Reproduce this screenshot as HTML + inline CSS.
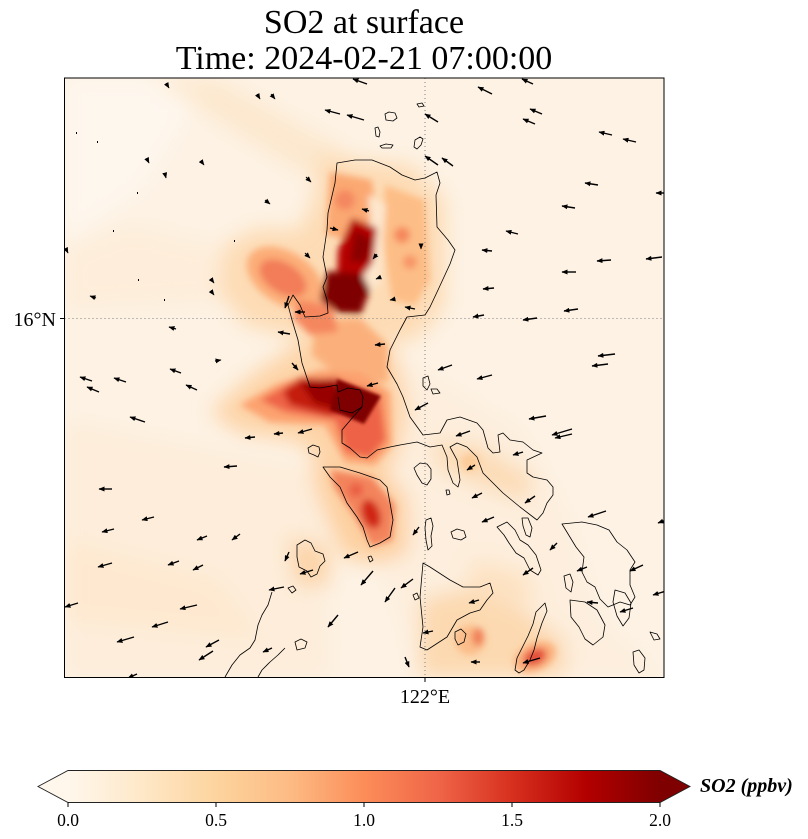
<!DOCTYPE html>
<html><head><meta charset="utf-8"><style>
html,body{margin:0;padding:0;background:#fff}
svg{display:block}
text{font-family:"Liberation Serif","Times New Roman",serif;fill:#000}
</style></head><body>
<svg width="808" height="839" viewBox="0 0 808 839" xmlns="http://www.w3.org/2000/svg">
<defs>
<clipPath id="mc"><rect x="64.5" y="78" width="599.5" height="599.5"/></clipPath>
<filter id="b4" x="-30%" y="-30%" width="160%" height="160%"><feGaussianBlur stdDeviation="3.5"/></filter>
<filter id="b10" x="-30%" y="-30%" width="160%" height="160%"><feGaussianBlur stdDeviation="10"/></filter>
<filter id="b2"><feGaussianBlur stdDeviation="1.5"/></filter>
<linearGradient id="cm" x1="68" y1="0" x2="660" y2="0" gradientUnits="userSpaceOnUse">
<stop offset="0" stop-color="#fff7ec"/><stop offset="0.125" stop-color="#fee8c8"/><stop offset="0.25" stop-color="#fdd49e"/><stop offset="0.375" stop-color="#fdbb84"/><stop offset="0.5" stop-color="#fc8d59"/><stop offset="0.625" stop-color="#ef6548"/><stop offset="0.75" stop-color="#d7301f"/><stop offset="0.875" stop-color="#b30000"/><stop offset="1" stop-color="#7f0000"/>
</linearGradient>
<marker id="ah" viewBox="0 0 6 5" refX="5.5" refY="2.5" markerWidth="6" markerHeight="5" markerUnits="userSpaceOnUse" orient="auto"><path d="M0,0 L6,2.5 L0,5 z"/></marker>
</defs>

<text x="364" y="33" font-size="34" text-anchor="middle">SO2 at surface</text>
<text x="364" y="69" font-size="34" text-anchor="middle">Time: 2024-02-21 07:00:00</text>

<g clip-path="url(#mc)">
<rect x="64" y="78" width="601" height="600" fill="#fdf2e4"/>
<g filter="url(#b10)">
<polygon points="64,78 210,78 140,190 64,240" fill="#fef7ee"/>
<polygon points="150,78 215,78 345,150 345,180 300,172" fill="#fde6c9" opacity="0.8"/>
<polygon points="64,250 130,225 240,250 250,300 64,310" fill="#fdebd5" opacity="0.7"/>
<polygon points="64,420 320,470 330,677 64,677" fill="#fdedda"/>
<polygon points="64,540 220,580 260,640 64,620" fill="#fde7cc" opacity="0.7"/>
<polygon points="300,330 400,360 520,430 560,500 600,620 660,677 420,677 380,560" fill="#fdeedd"/>
<polygon points="318,155 412,165 445,200 445,305 422,335 380,350 330,345 285,335 245,325 218,290 225,245 258,228 300,230 315,195" fill="#fddcb5"/>
<polygon points="210,412 248,378 300,342 356,332 398,358 408,410 398,458 377,478 335,473 298,442 238,432" fill="#fdd4a8"/>
<polygon points="312,460 382,466 408,500 408,552 382,563 345,558 328,522 315,486" fill="#fdd0a0"/>
<polygon points="420,600 470,588 520,608 565,640 565,677 420,677" fill="#fcd9b0"/>
<polygon points="430,440 480,445 535,478 525,502 470,482 440,470" fill="#fcdcb6"/>
<polygon points="288,538 328,545 330,585 295,585" fill="#fcd4a8"/>
<polygon points="470,560 520,570 540,600 500,605 470,590" fill="#fde2c2"/>
</g>
<g filter="url(#b4)">
<polygon points="385,185 425,200 430,280 415,305 392,300 383,240" fill="#fdbd86"/>
<ellipse cx="285" cy="278" rx="42" ry="26" fill="#fcad78" transform="rotate(32 285 278)"/>
<polygon points="330,172 372,180 376,218 352,242 326,234" fill="#fba872"/>
<polygon points="315,320 360,318 388,345 388,382 345,382 312,355" fill="#fbb07c"/>
<ellipse cx="283" cy="278" rx="26" ry="15" fill="#f27d58" transform="rotate(32 283 278)"/>
<circle cx="402" cy="235" r="8" fill="#f5875c"/>
<circle cx="410" cy="262" r="7" fill="#f79466"/>
<circle cx="345" cy="200" r="10" fill="#f48860"/>
<polygon points="368,195 386,205 380,285 367,292 361,270 371,230" fill="#fde6cc"/>
<polygon points="298,300 332,305 338,332 310,335 293,318" fill="#f5875e"/>
<polygon points="352,218 377,228 373,262 360,280 337,278 338,250" fill="#b50505"/>
<polygon points="355,230 372,240 366,262 350,262" fill="#8a0000"/>
<polygon points="327,271 362,274 370,290 361,314 339,313 320,300" fill="#7f0000"/>
<polygon points="240,405 275,385 320,370 360,372 390,392 392,445 375,465 345,462 325,425 270,422" fill="#fca26f"/>
<polygon points="260,400 290,383 335,377 380,395 386,440 370,458 345,452 335,420 285,412" fill="#ee6446"/>
<polygon points="283,392 300,378 338,380 345,412 330,416 290,405" fill="#c41b0f"/>
<polygon points="300,382 338,380 341,411 314,403" fill="#980000"/>
<polygon points="330,470 372,477 395,505 392,540 372,546 352,512 335,488" fill="#f3835b"/>
<ellipse cx="371" cy="514" rx="9" ry="15" fill="#d02818" transform="rotate(-20 371 514)"/>
<circle cx="356" cy="490" r="7" fill="#ea5f45"/>
<circle cx="470" cy="640" r="15" fill="#fbbd8a"/>
<ellipse cx="535" cy="657" rx="22" ry="14" fill="#fbb07e" transform="rotate(-25 535 657)"/>
<ellipse cx="535" cy="657" rx="12" ry="8" fill="#e5503a" transform="rotate(-25 535 657)"/>
<ellipse cx="478" cy="637" rx="6" ry="9" fill="#f08058"/>
<circle cx="470" cy="462" r="9" fill="#fccb98"/>
</g>
<polygon points="337,379 381,396 364,424 330,410" fill="#7f0000" filter="url(#b2)"/>

<path d="M425 78V677.5M64.5 318.5H664" stroke="#808080" stroke-width="1" stroke-dasharray="1,3" fill="none"/>

<g fill="none" stroke="#000" stroke-width="0.8" stroke-linejoin="round">
<path d="M337,163 L355,160 L372,160 L390,167 L402,175 L415,180 L425,178 L437,172 L440,183 L436,195 L437,227 L448,240 L455,250 L450,264 L438,290 L430,307 L425,315 L407,317 L400,330 L390,350 L387,367 L397,384 L403,397 L410,417 L423,435 L440,433 L447,420 L460,417 L477,423 L483,430 L488,448 L493,453 L500,452 L498,435 L503,433 L510,440 L523,442 L533,450 L542,453 L527,460 L527,473 L533,477 L547,480 L553,487 L553,495 L547,503 L543,513 L537,520 L520,507 L503,493 L490,480 L483,473 L477,457 L467,447 L457,443 L450,447 L457,460 L460,480 L458,487 L453,483 L448,470 L447,457 L442,445 L430,447 L417,442 L400,445 L390,447 L377,450 L367,458 L360,457 L350,448 L342,443 L342,430 L353,417 L362,407 L363,397 L360,390 L348,388 L338,392 L337,385 L320,388 L310,387 L302,363 L298,340 L292,320 L288,305 L293,295 L300,305 L305,317 L320,316 L328,313 L327,300 L323,287 L327,277 L323,257 L327,230 L328,213 L335,183 Z"/>
<path d="M338,397 L340,410 L352,413 L362,407"/>
<path d="M323,467 L340,467 L360,473 L380,480 L387,487 L390,503 L393,520 L390,537 L380,543 L370,547 L367,540 L363,527 L357,517 L347,503 L340,487 L330,477 Z"/>
<path d="M385,114l4,-2l6,1l2,5l-4,3l-7,-1zM375,128l3,-1l2,5l-1,5l-3,-1zM380,146l6,-2l7,1l-2,3l-9,0zM415,140l5,-3l3,2l-2,6l-4,4l-3,-2zM417,104l5,-1l2,3l-5,1zM423,378l5,-2l2,8l-3,6l-4,-4zM431,389l6,0l3,4l-7,1zM308,448l5,-3l6,2l1,5l-2,5l-4,-2l-5,-2zM414,468l6,-5l7,1l4,5l0,10l-4,6l-5,-2l-5,-8zM426,520l5,-2l2,8l-2,10l1,10l-4,4l-2,-10l-1,-12zM451,532l6,-3l7,2l2,6l-5,3l-8,-2zM522,518l6,0l4,10l-2,9l-4,-2l-3,-9z"/>
<path d="M497,527l10,-5l8,8l5,10l8,5l8,10l5,15l-3,5l-8,-5l-6,-12l-8,-5l-7,-10l-5,-8zM562,524l20,-2l15,3l12,5l8,12l10,8l8,12l-5,8l0,15l5,12l-5,8l-10,-3l-12,5l-8,-8l-5,-12l-8,-5l-5,-10l2,-15l-8,-10zM564,576l6,-2l3,8l-2,10l-5,-4z"/>
<path d="M423,563L430,567L450,580L463,587L480,587L490,583L493,593L487,600L480,610L470,613L457,620L447,637L427,650L420,647L423,627L420,597Z"/>
<path d="M455,632l6,-3l5,5l-2,8l-6,3l-3,-6zM545,603l2,8l-5,12l-5,15l-3,12l-4,10l-6,10l-5,3l-4,-3l2,-12l5,-10l6,-12l5,-12l3,-12zM570,600l15,2l12,8l8,15l-2,12l-10,8l-8,-6l-6,-12l-8,-10zM615,590l10,3l6,10l-2,15l-6,8l-6,-10l-4,-14zM633,652l6,-2l6,8l-1,12l-5,3l-5,-8zM650,632l7,2l3,5l-6,1z"/>
<path d="M272,592L268,605L262,615L258,625L255,640L250,648L240,655L232,665L225,677M285,648L278,655L270,662L262,670L258,677"/>
<path d="M295,642l6,-3l6,3l-2,6l-8,2zM297,545l8,-5l6,3l4,8l8,3l2,7l-5,5l-3,8l-6,3l-4,-6l-8,-4l-2,-10zM288,588l5,-2l3,4l-4,3zM368,557l3,-1l2,4l-3,2zM446,490l3,0l1,4l-3,1zM413,595l4,-2l2,5l-4,2z"/>
</g>

<g stroke="#000" stroke-width="1.4" marker-end="url(#ah)" fill="none">
<path d="M367 84L353 79"/><path d="M492 94L478 87"/><path d="M533 84L522 79"/><path d="M542 114L530 109"/>
<path d="M535 124L523 119"/><path d="M438 122L425 114"/><path d="M364 120L347 115"/><path d="M340 114L325 110"/>
<path d="M612 135L599 132"/><path d="M636 142L623 139"/><path d="M438 165L425 156"/><path d="M453 166L442 158"/>
<path d="M598 185L585 183"/><path d="M668 193L656 193"/><path d="M575 208L562 206"/><path d="M518 234L506 231"/>
<path d="M492 251L482 250"/><path d="M611 260L597 261"/><path d="M662 257L646 259"/><path d="M576 272L562 272"/>
<path d="M494 288L483 289"/><path d="M578 309L564 311"/><path d="M484 315L473 317"/><path d="M537 318L523 320"/>
<path d="M385 344L375 345"/><path d="M615 354L598 356"/><path d="M608 364L592 366"/><path d="M452 365L438 370"/>
<path d="M492 375L477 379"/><path d="M378 383L367 386"/><path d="M330 228L338 230"/><path d="M176 329L169 327"/>
<path d="M290 334L278 332"/><path d="M181 373L170 369"/><path d="M292 363L298 370"/><path d="M305 312L295 312"/>
<path d="M289 296L285 308"/><path d="M369 211L362 209"/><path d="M415 309L405 307"/><path d="M92 381L80 377"/>
<path d="M126 382L114 378"/><path d="M99 392L87 387"/><path d="M197 390L186 385"/><path d="M145 422L130 417"/>
<path d="M255 437L245 438"/><path d="M283 433L274 434"/><path d="M312 429L298 433"/><path d="M237 466L224 467"/>
<path d="M112 489L99 489"/><path d="M154 517L142 520"/><path d="M114 529L102 532"/><path d="M207 536L197 540"/>
<path d="M240 534L232 540"/><path d="M112 563L98 567"/><path d="M179 561L168 565"/><path d="M203 565L193 570"/>
<path d="M78 603L65 607"/><path d="M197 605L180 609"/><path d="M168 622L152 627"/><path d="M134 637L117 642"/>
<path d="M219 640L206 647"/><path d="M213 651L199 660"/><path d="M284 587L269 590"/><path d="M289 552L285 561"/>
<path d="M313 570L300 574"/><path d="M358 552L344 558"/><path d="M373 571L361 585"/><path d="M395 588L385 602"/>
<path d="M338 615L328 627"/><path d="M137 674L128 678"/><path d="M272 648L263 652"/><path d="M428 403L415 410"/>
<path d="M546 416L529 419"/><path d="M572 429L552 435"/><path d="M572 434L555 438"/><path d="M470 431L456 436"/>
<path d="M523 452L513 455"/><path d="M475 465L467 470"/><path d="M482 493L472 498"/><path d="M494 517L482 522"/>
<path d="M535 496L525 503"/><path d="M606 511L588 517"/><path d="M666 520L658 523"/><path d="M419 527L413 535"/>
<path d="M557 543L550 550"/><path d="M533 568L523 575"/><path d="M587 567L577 571"/><path d="M643 565L630 571"/>
<path d="M413 579L401 588"/><path d="M479 600L469 603"/><path d="M598 603L587 602"/><path d="M633 608L620 612"/>
<path d="M666 591L653 595"/><path d="M433 631L423 633"/><path d="M480 662L471 662"/><path d="M540 658L523 663"/>
<path d="M405 657L409 667"/>
</g>
<g stroke="#000" stroke-width="1" marker-end="url(#ah)" fill="none">
<path d="M166 83L169 88"/><path d="M257 94L260 99"/><path d="M271 94L275 99"/><path d="M306 177L311 182"/>
<path d="M265 200L270 204"/><path d="M305 253L310 258"/><path d="M377 254L373 259"/><path d="M381 277L376 279"/>
<path d="M395 299L390 300"/><path d="M421 245L421 249"/><path d="M96 298L90 296"/><path d="M215 361L221 360"/>
<path d="M66 249L68 253"/><path d="M211 279L214 283"/><path d="M211 291L214 295"/><path d="M147 159L149 163"/>
<path d="M201 161L204 165"/><path d="M165 174L166 178"/>
</g>
<path d="M76 133h1M97 142h1M137 193h1M113 231h1M234 241h1M138 280h1M164 300h1" stroke="#000" stroke-width="2"/>
</g>

<rect x="64.5" y="78" width="599.5" height="599.5" fill="none" stroke="#000" stroke-width="1"/>
<path d="M60 318.5H64.5M425 677.5V682" stroke="#000" stroke-width="1"/>
<text x="56" y="326" font-size="20" text-anchor="end">16°N</text>
<text x="425" y="703" font-size="20" text-anchor="middle">122°E</text>

<polygon points="38,786.5 68,770.5 68,802.5" fill="#fff7ec"/>
<rect x="68" y="770.5" width="592" height="32" fill="url(#cm)"/>
<polygon points="660,770.5 690,786.5 660,802.5" fill="#7f0000"/>
<path d="M38,786.5 L68,770.5 L660,770.5 L690,786.5 L660,802.5 L68,802.5 Z" fill="none" stroke="#222" stroke-width="0.9"/>
<path d="M68 802.5V807M216 802.5V807M364 802.5V807M512 802.5V807M660 802.5V807" stroke="#000" stroke-width="1"/>
<g font-size="17.5" text-anchor="middle">
<text x="68" y="826">0.0</text><text x="216" y="826">0.5</text><text x="364" y="826">1.0</text><text x="512" y="826">1.5</text><text x="660" y="826">2.0</text>
</g>
<text x="700" y="792" font-size="20" font-weight="bold" font-style="italic">SO2 (ppbv)</text>
</svg>
</body></html>
